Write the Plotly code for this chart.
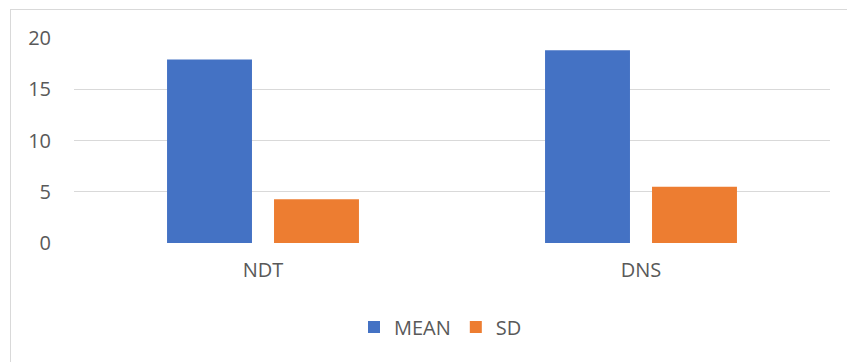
import plotly.graph_objects as go

categories = ["NDT", "DNS"]
mean_values = [17.9, 18.8]
sd_values = [4.28, 5.5]
series_names = ["MEAN", "SD"]
y_ticks = [0, 5, 10, 15, 20]

W, H = 847, 362
L, R, T, B = 74, 17, 38, 119
pw = W - L - R
ph = H - T - B

def px_x(p):
    return (p - L) / pw

def px_y(p):
    return (H - B - p) / ph

font = dict(family="Open Sans, sans-serif", size=20, color="#595959")

fig = go.Figure()
fig.add_trace(go.Bar(x=categories, y=mean_values, name=series_names[0],
                     marker=dict(color="#4472C4", line=dict(width=0))))
fig.add_trace(go.Bar(x=categories, y=sd_values, name=series_names[1],
                     marker=dict(color="#ED7D31", line=dict(width=0))))

fig.update_layout(
    width=W, height=H,
    margin=dict(l=L, r=R, t=T, b=B, pad=0),
    paper_bgcolor="white", plot_bgcolor="white",
    font=font,
    barmode="group", bargap=0.434, bargroupgap=0.206,
    showlegend=True,
    legend=dict(orientation="h", x=px_x(354), y=px_y(327), xanchor="left",
                yanchor="middle", font=font, itemwidth=30,
                bgcolor="rgba(0,0,0,0)"),
    xaxis=dict(showgrid=False, showline=False, zeroline=False, ticks="",
               tickfont=font, ticklabelstandoff=13),
    yaxis=dict(range=[0, 20], tickvals=y_ticks, showgrid=True,
               gridcolor="#D9D9D9", gridwidth=1, zeroline=False,
               showline=False, ticks="", tickfont=font,
               ticklabelstandoff=22),
    shapes=[
        dict(type="line", xref="paper", yref="paper",
             x0=px_x(10), x1=px_x(W + 5), y0=px_y(9.5), y1=px_y(9.5),
             line=dict(color="#D9D9D9", width=1)),
        dict(type="line", xref="paper", yref="paper",
             x0=px_x(10.5), x1=px_x(10.5), y0=px_y(9.5), y1=px_y(H + 5),
             line=dict(color="#D9D9D9", width=1)),
    ],
)

fig.write_html("out.html")
